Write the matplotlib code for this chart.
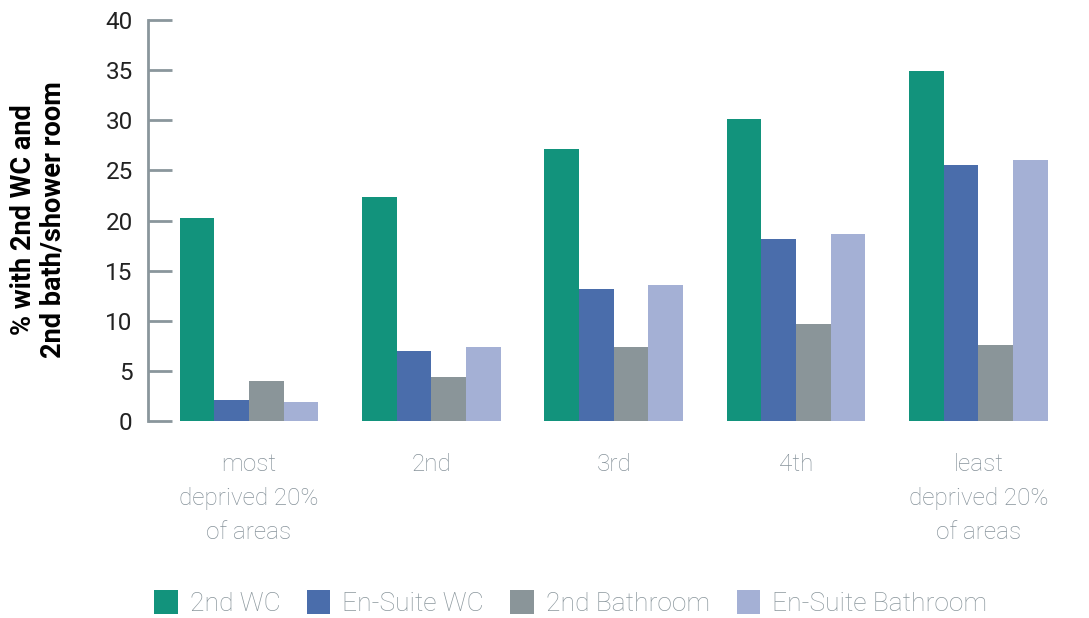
import numpy as np
import matplotlib
matplotlib.use('Agg')
from matplotlib import pyplot as plt

plt.rcParams['font.family'] = ['Roboto', 'DejaVu Sans']

groups = ['most\ndeprived 20%\nof areas', '2nd', '3rd', '4th', 'least\ndeprived 20%\nof areas']
series = ['2nd WC', 'En-Suite WC', '2nd Bathroom', 'En-Suite Bathroom']
second_wc = [20.25, 22.3, 27.1, 30.1, 34.9]
ensuite_wc = [2.1, 7.0, 13.2, 18.2, 25.5]
second_bath = [4.0, 4.4, 7.4, 9.7, 7.6]
ensuite_bath = [1.9, 7.4, 13.6, 18.7, 26.0]
colors = ['#12937c', '#4a6dab', '#8a9599', '#a4b0d5']

gray = '#8a969c'

fig = plt.figure(figsize=(10.89, 6.18), dpi=100)
ax = fig.add_axes([148 / 1089, 1 - 421 / 618, 1 - 148 / 1089 - 14 / 1089, 401 / 618])

x = np.arange(len(groups))
w = 0.19
for i, (vals, name) in enumerate(zip([second_wc, ensuite_wc, second_bath, ensuite_bath], series)):
    ax.bar(x + (i - 1.5) * w, vals, w, color=colors[i], label=name, linewidth=0)

ax.set_ylim(0, 40)
ax.set_xlim(-0.554, 4.53)
ax.set_yticks(range(0, 41, 5))
ax.set_xticks(x)
ax.set_xticklabels(groups, color='#86929a', fontsize=17.5, linespacing=1.6, fontweight='light')
ax.tick_params(axis='x', length=0, pad=23)
ax.tick_params(axis='y', direction='in', length=17, width=2, color=gray, labelsize=17.5, pad=11, labelcolor='#222222')
for s in ['top', 'right', 'bottom']:
    ax.spines[s].set_visible(False)
ax.spines['left'].set_color(gray)
ax.spines['left'].set_linewidth(2)

fig.text(38 / 1089, 1 - 220 / 618, '% with 2nd WC and\n2nd bath/shower room', rotation=90,
         ha='center', va='center', fontsize=19.5, fontweight='bold', linespacing=1.1)

leg = fig.legend(loc='center', bbox_to_anchor=(0.524, 15 / 618), ncol=4, frameon=False,
                 fontsize=19, handlelength=0.9, handleheight=1.0, handletextpad=0.45, columnspacing=1.0)
for t in leg.get_texts():
    t.set_color(gray)
    t.set_fontweight('light')

fig.savefig('out.png', dpi=100)
